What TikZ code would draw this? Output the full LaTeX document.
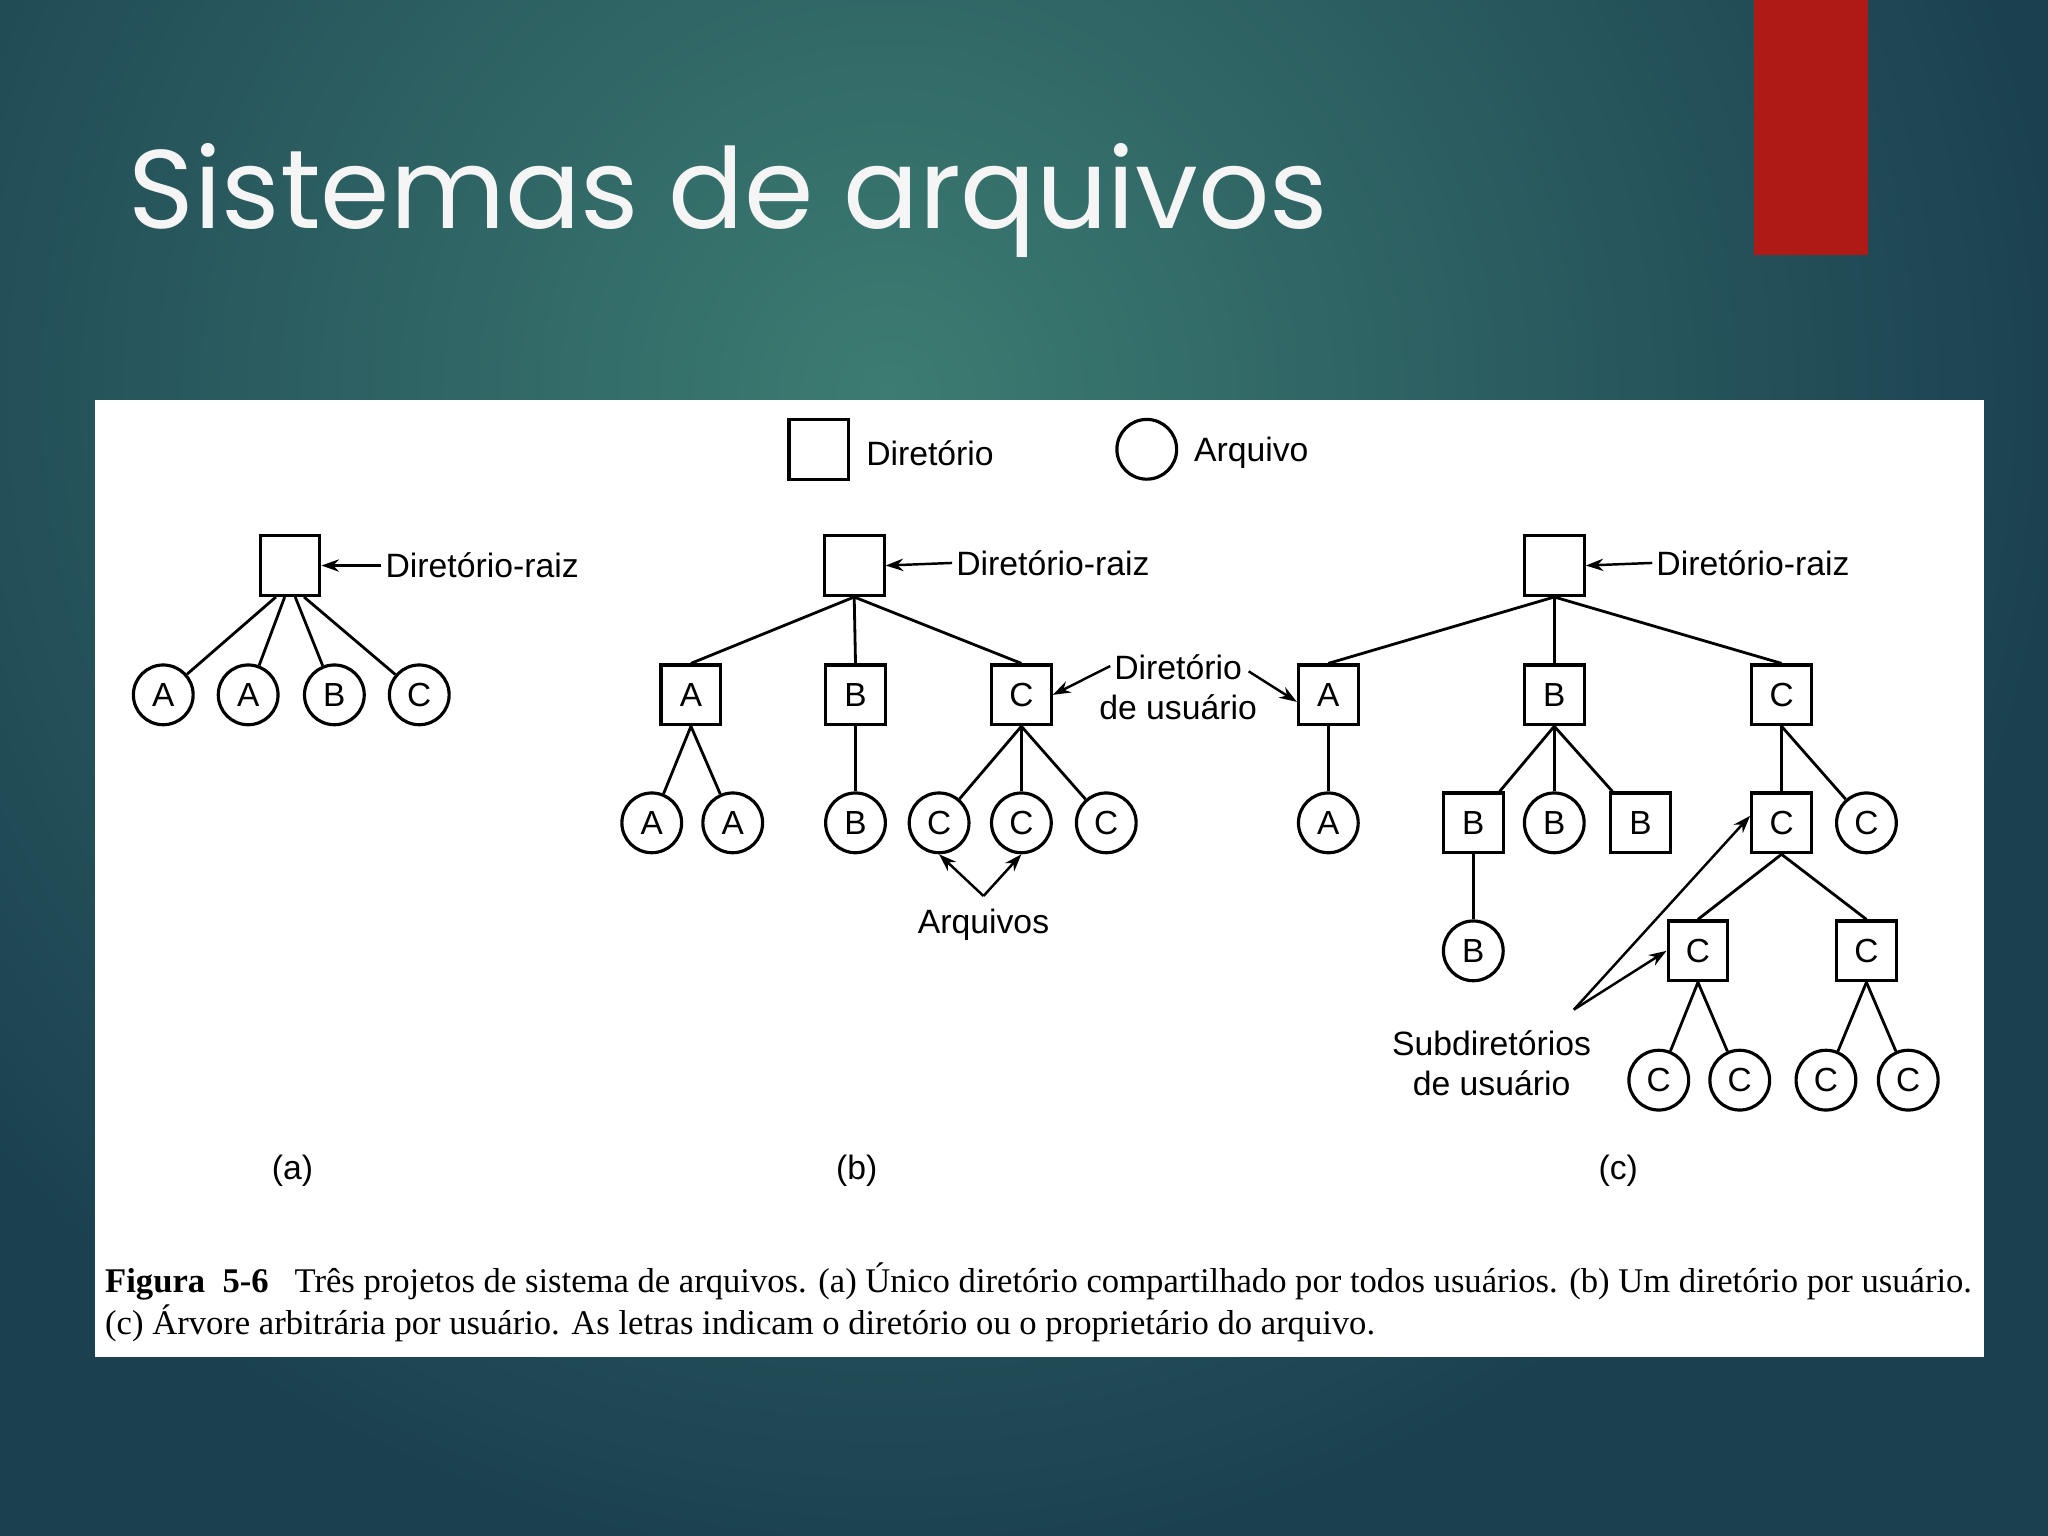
\documentclass[tikz,border=0pt]{standalone}
\usepackage{fontspec}
\setmainfont{Liberation Serif}
\newfontfamily\diafont{Liberation Sans}
\newfontfamily\titlefont{Poppins}
\usetikzlibrary{arrows.meta}
\definecolor{bgdark}{HTML}{1B4150}
\definecolor{bglight}{HTML}{3C7C72}
\definecolor{redbar}{HTML}{B01A16}
\begin{document}
\begin{tikzpicture}[x=0.013061cm,y=-0.013061cm,
  dirbox/.style={draw,line width=0.9pt,minimum size=17pt,inner sep=0pt,font=\diafont\fontsize{9.5pt}{10pt}\selectfont},
  filec/.style={draw,circle,line width=0.9pt,minimum size=17pt,inner sep=0pt,font=\diafont\fontsize{9.5pt}{10pt}\selectfont},
  lbl/.style={font=\diafont\fontsize{9.6pt}{11.5pt}\selectfont,inner sep=1pt,align=center},
  edge/.style={line width=0.8pt},
  arr/.style={line width=0.7pt,-{Stealth[length=5pt,width=3.5pt]}}]
\useasboundingbox (0,0) rectangle (1568,1176);
\fill[bgdark] (0,0) rectangle (1568,1176);
\begin{scope}
\clip (0,0) rectangle (1568,1176);
\shade[inner color=bglight,outer color=bgdark] (680,300) circle (900);
\end{scope}
\fill[redbar] (1343,0) rectangle (1430,195);
\node[anchor=base west,inner sep=0pt,text=white!92!gray,font=\titlefont\fontsize{31.8pt}{34pt}\selectfont] (title) at (98,175) {Sistemas de arquivos};
\fill[white] (73,306) rectangle (1519,1039);
% legend
\node[dirbox,minimum size=17pt] (lgd) at (627,344) {};
\node[lbl,anchor=west] (lgdt) at (660,347) {Diretório};
\node[filec] (lgf) at (878,344) {};
\node[lbl,anchor=west] (lgft) at (911,347) {Arquivo};
% (a)
\node[dirbox] (ra) at (222,433) {};
\node[lbl,anchor=west] (ral) at (292,433) {Diretório-raiz};
\draw[arr] (ral.west) -- (ra.east);
\foreach \n/\x/\dx/\t in {a1/125/-4/A,a2/190/-1.5/A,a3/256/1.5/B,a4/321/4/C}{
  \node[filec] (\n) at (\x,532) {\t};
  \draw[edge] ([xshift=\dx pt]ra.south) -- (\n);
}
% (b)
\node[dirbox] (rb) at (654,433) {};
\node[lbl,anchor=west] (rbl) at (729,431) {Diretório-raiz};
\draw[arr] (rbl.west) -- (rb.east);
\node[dirbox] (bA) at (529,532) {A};
\node[dirbox] (bB) at (655,532) {B};
\node[dirbox] (bC) at (782,532) {C};
\foreach \c in {bA,bB,bC} \draw[edge] (rb.south) -- (\c.north);
\node[filec] (bA1) at (499,630) {A};
\node[filec] (bA2) at (561,630) {A};
\node[filec] (bB1) at (655,630) {B};
\node[filec] (bC1) at (719,630) {C};
\node[filec] (bC2) at (782,630) {C};
\node[filec] (bC3) at (847,630) {C};
\foreach \p/\c in {bA/bA1,bA/bA2,bB/bB1,bC/bC1,bC/bC2,bC/bC3} \draw[edge] (\p.south) -- (\c);
\node[lbl] (arqs) at (753,708) {Arquivos};
\coordinate (arqp) at (753,686);
\draw[arr] (arqp) -- (bC1.south);
\draw[arr] (arqp) -- (bC2.south);
\node[lbl] (du) at (902,526) {Diretório\\de usuário};
\coordinate (dul) at (850,510);
\coordinate (dur) at (956,514);
\draw[arr] (dul) -- (bC.east);
% (c)
\node[dirbox] (rc) at (1190,433) {};
\node[lbl,anchor=west] (rcl) at (1265,431) {Diretório-raiz};
\draw[arr] (rcl.west) -- (rc.east);
\node[dirbox] (cA) at (1017,532) {A};
\node[dirbox] (cB) at (1190,532) {B};
\node[dirbox] (cC) at (1364,532) {C};
\foreach \c in {cA,cB,cC} \draw[edge] (rc.south) -- (\c.north);
\draw[arr] (dur) -- ([yshift=-2pt]cA.west);
\node[filec] (cA1) at (1017,630) {A};
\node[dirbox] (cB1) at (1128,630) {B};
\node[filec] (cB2) at (1190,630) {B};
\node[dirbox] (cB3) at (1256,630) {B};
\node[dirbox] (cC1) at (1364,630) {C};
\node[filec] (cC2) at (1429,630) {C};
\foreach \p/\c in {cA/cA1,cB/cB1,cB/cB2,cB/cB3,cC/cC1,cC/cC2} \draw[edge] (\p.south) -- (\c);
\node[filec] (cB11) at (1128,728) {B};
\draw[edge] (cB1.south) -- (cB11);
\node[dirbox] (cC11) at (1300,728) {C};
\node[dirbox] (cC12) at (1429,728) {C};
\draw[edge] (cC1.south) -- (cC11.north);
\draw[edge] (cC1.south) -- (cC12.north);
\node[filec] (d1) at (1270,827) {C};
\node[filec] (d2) at (1332,827) {C};
\node[filec] (d3) at (1398,827) {C};
\node[filec] (d4) at (1461,827) {C};
\foreach \p/\c in {cC11/d1,cC11/d2,cC12/d3,cC12/d4} \draw[edge] (\p.south) -- (\c);
\node[lbl] (sub) at (1142,814) {Subdiretórios\\de usuário};
\coordinate (subp) at (1205,773);
\draw[arr] (subp) -- (cC11.west);
\draw[arr] (subp) -- ([yshift=2pt]cC1.west);
% sub labels
\node[lbl] (la) at (224,896) {(a)};
\node[lbl] (lb) at (656,896) {(b)};
\node[lbl] (lc) at (1239,896) {(c)};
% caption
\node[anchor=north west,inner sep=0pt,align=left,font=\fontsize{9.85pt}{12pt}\selectfont] (cap) at (80,966)
 {\textbf{Figura\ \ 5-6}\ \ \ Três projetos de sistema de arquivos. (a) Único diretório compartilhado por todos usuários. (b) Um diretório por usuário.\\(c) Árvore arbitrária por usuário. As letras indicam o diretório ou o proprietário do arquivo.};
\end{tikzpicture}
\end{document}
